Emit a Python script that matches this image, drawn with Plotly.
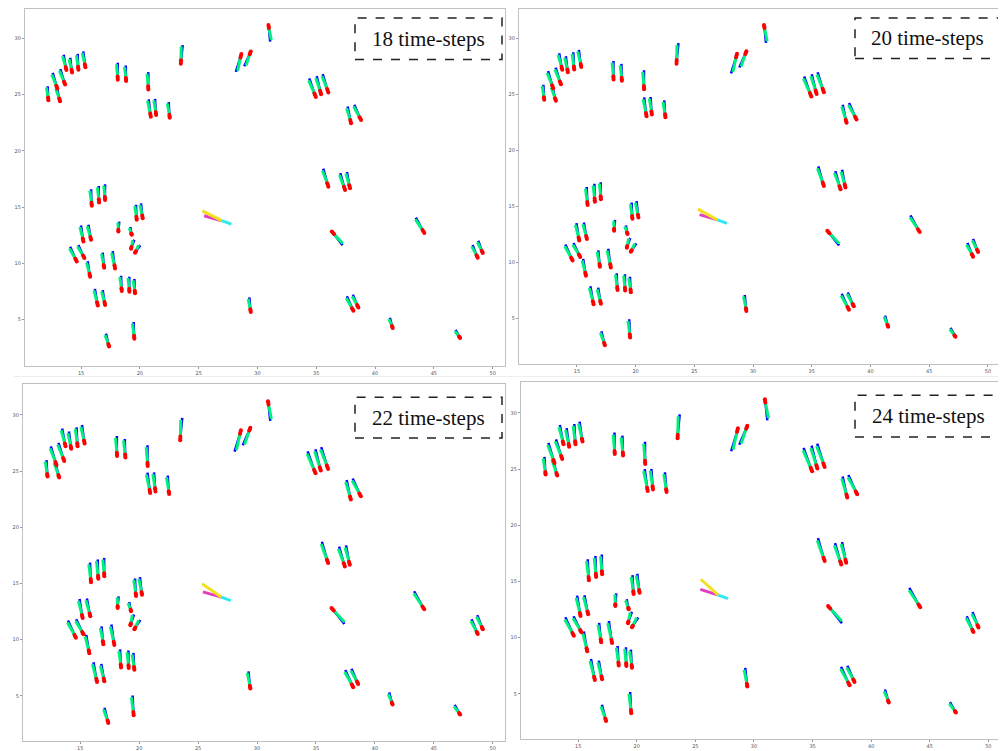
import plotly.graph_objects as go
import numpy as np

# ---------------- data ----------------
horizons = [18, 20, 22, 24]
panel_labels = ["18 time-steps", "20 time-steps", "22 time-steps", "24 time-steps"]

# red (observed) start point of every pedestrian
start_x = [12.22, 12.98, 13.21, 13.64, 13.75, 14.23, 14.77, 15.37, 18.12, 18.83,
           20.72, 20.93, 21.38, 22.54, 23.48, 28.63, 29.43, 30.93, 34.96, 35.41,
           36.03, 37.96, 38.81, 36.03, 37.45, 37.87, 36.32, 44.19, 48.73, 49.16,
           38.16, 38.58, 41.50, 47.23, 29.43, 15.91, 16.53, 17.04, 19.73, 20.24,
           18.17, 19.31, 15.20, 15.85, 19.25, 19.59, 14.63, 15.28, 15.77, 16.96,
           17.89, 18.46, 19.11, 19.59, 16.42, 17.04, 17.38, 19.53]
start_y = [24.51, 25.54, 24.42, 25.90, 27.20, 26.98, 27.21, 27.44, 26.33, 26.21,
           25.45, 23.04, 23.19, 22.95, 27.74, 28.62, 28.85, 31.20, 24.80, 25.04,
           25.19, 22.46, 22.75, 16.82, 16.52, 16.67, 12.82, 12.70, 10.50, 10.92,
           5.77, 6.07, 4.25, 3.36, 5.66, 15.11, 15.41, 15.64, 13.88, 14.00,
           12.82, 12.53, 11.94, 12.09, 11.29, 10.94, 10.17, 10.48, 8.80, 9.60,
           9.53, 7.53, 7.48, 7.33, 6.25, 6.30, 2.60, 3.28]
# far end of the predicted path at 18 time-steps
end_x = [12.08, 12.51, 12.85, 13.16, 13.44, 14.00, 14.63, 15.11, 18.04, 18.72,
         20.64, 20.67, 21.21, 22.37, 23.56, 28.24, 28.95, 31.16, 34.33, 34.96,
         35.47, 37.59, 38.16, 35.52, 36.97, 37.53, 37.30, 43.40, 48.22, 48.70,
         37.53, 38.04, 41.19, 46.78, 29.23, 15.77, 16.42, 16.96, 19.59, 20.02,
         18.17, 19.11, 14.91, 15.54, 19.45, 19.96, 14.00, 14.69, 15.48, 16.76,
         17.61, 18.32, 19.02, 19.45, 16.10, 16.76, 17.04, 19.39]
end_y = [25.74, 26.92, 25.63, 27.24, 28.53, 28.27, 28.62, 28.83, 27.83, 27.59,
         27.00, 24.57, 24.62, 24.33, 29.42, 27.00, 27.50, 29.74, 26.42, 26.63,
         26.80, 23.92, 24.07, 18.40, 17.99, 18.11, 11.65, 14.03, 11.59, 11.97,
         7.04, 7.18, 5.13, 4.04, 6.95, 16.58, 16.87, 17.02, 15.20, 15.32,
         13.70, 13.21, 13.35, 13.41, 12.11, 11.65, 11.44, 11.58, 10.17, 10.94,
         11.06, 8.89, 8.80, 8.59, 7.71, 7.60, 3.72, 4.77]

# highlighted pedestrian (cyan observed, yellow truth, magenta prediction)
sp_obs_x = [27.78, 26.96]
sp_obs_y = [13.48, 13.79]
sp_gt_end_x = [25.31, 25.30, 25.34, 25.46]
sp_gt_end_y = [14.67, 14.75, 14.97, 15.20]
sp_pred_end_x = [25.46, 25.45, 25.40, 25.42]
sp_pred_end_y = [14.23, 14.26, 14.25, 14.30]

x_ticks = [15, 20, 25, 30, 35, 40, 45, 50]
y_ticks = [5, 10, 15, 20, 25, 30]

# ---------------- layout geometry (page pixels) ----------------
OFF = 8                      # page body margin
W, H = 1006 - OFF, 751 - OFF
frames = [(25, 505, 8, 368), (519, 1003, 8, 366), (23, 505, 387, 747), (521, 1003, 385, 745)]
xranges = [[10.23, 51.05], [10.07, 51.28], [10.14, 51.04], [10.12, 51.25]]
yranges = [[0.90, 32.62], [0.95, 32.62], [0.99, 32.70], [0.99, 32.70]]
boxes = [(355, 502, 17, 59), (855, 1000, 17, 58), (355, 502, 400, 441), (855, 1002, 398, 440)]


def fx_(p):
    return (p - OFF) / W


def fy_(p):
    return 1 - (p - OFF) / H


OBS_FRAC = 0.19
RED = "#ff0000"
GREEN = "#00f080"
BLUE = "#0000ff"

fig = go.Figure()

sx = np.array(start_x); sy = np.array(start_y)
ex = np.array(end_x); ey = np.array(end_y)
dx = ex - sx; dy = ey - sy
ln = np.hypot(dx, dy)
px_, py_ = -dy / ln, dx / ln  # perpendicular unit vector

for k in range(4):
    xa = "x" if k == 0 else f"x{k+1}"
    ya = "y" if k == 0 else f"y{k+1}"
    scale = horizons[k] / 18.0
    ox = sx + OBS_FRAC * dx
    oy = sy + OBS_FRAC * dy
    fx = (ex - ox) * scale
    fy = (ey - oy) * scale
    gx = ox + 0.90 * fx + 0.04 * px_
    gy = oy + 0.90 * fy + 0.04 * py_
    bx = ox + fx - 0.08 * px_
    by = oy + fy - 0.08 * py_

    bl_x, bl_y, gr_x, gr_y, rd_x, rd_y = [], [], [], [], [], []
    for i in range(len(sx)):
        bl_x += [ox[i], bx[i], None]
        bl_y += [oy[i], by[i], None]
        gr_x += [ox[i], gx[i], None]
        gr_y += [oy[i], gy[i], None]
        rd_x += [sx[i], (sx[i] + ox[i]) / 2, ox[i], None]
        rd_y += [sy[i], (sy[i] + oy[i]) / 2, oy[i], None]

    fig.add_trace(go.Scatter(x=bl_x, y=bl_y, mode="lines", line=dict(color=BLUE, width=2.5),
                             xaxis=xa, yaxis=ya, hoverinfo="skip", showlegend=False))
    fig.add_trace(go.Scatter(x=gr_x, y=gr_y, mode="lines", line=dict(color=GREEN, width=3),
                             xaxis=xa, yaxis=ya, hoverinfo="skip", showlegend=False))
    fig.add_trace(go.Scatter(x=rd_x, y=rd_y, mode="lines+markers", line=dict(color=RED, width=2.5),
                             marker=dict(color=RED, size=4),
                             xaxis=xa, yaxis=ya, hoverinfo="skip", showlegend=False))
    # highlighted pedestrian
    fig.add_trace(go.Scatter(x=[sp_obs_x[1], sp_pred_end_x[k]], y=[sp_obs_y[1], sp_pred_end_y[k]],
                             mode="lines", line=dict(color="#e040c0", width=3),
                             xaxis=xa, yaxis=ya, hoverinfo="skip", showlegend=False))
    fig.add_trace(go.Scatter(x=[sp_obs_x[1], sp_gt_end_x[k]], y=[sp_obs_y[1], sp_gt_end_y[k]],
                             mode="lines", line=dict(color="#f2e020", width=3),
                             xaxis=xa, yaxis=ya, hoverinfo="skip", showlegend=False))
    fig.add_trace(go.Scatter(x=sp_obs_x, y=sp_obs_y, mode="lines", line=dict(color="#30e8f0", width=3),
                             xaxis=xa, yaxis=ya, hoverinfo="skip", showlegend=False))

axis_common = dict(showgrid=False, zeroline=False, showline=True, mirror=True,
                   linecolor="#c0c0c0", linewidth=1.3, ticks="outside", ticklen=2,
                   tickcolor="#999", tickwidth=1, tickfont=dict(size=5, color="#555", family="DejaVu Sans"))

layout = dict(width=W, height=H, margin=dict(l=0, r=0, t=0, b=0),
              paper_bgcolor="white", plot_bgcolor="white", showlegend=False)
shapes = []
annotations = []
for k in range(4):
    x0, x1, y0, y1 = frames[k]
    xn = "xaxis" if k == 0 else f"xaxis{k+1}"
    yn = "yaxis" if k == 0 else f"yaxis{k+1}"
    anchor_x = "y" if k == 0 else f"y{k+1}"
    anchor_y = "x" if k == 0 else f"x{k+1}"
    layout[xn] = dict(axis_common, domain=[max(0, fx_(x0)), min(1, fx_(x1))], range=xranges[k],
                      tickvals=x_ticks, anchor=anchor_x)
    layout[yn] = dict(axis_common, domain=[max(0, fy_(y1)), min(1, fy_(y0))], range=yranges[k],
                      tickvals=y_ticks, anchor=anchor_y)
    bx0, bx1, by0, by1 = boxes[k]
    shapes.append(dict(type="rect", xref="paper", yref="paper",
                       x0=fx_(bx0), x1=fx_(bx1), y0=fy_(by1), y1=fy_(by0),
                       line=dict(color="#222", width=1.5, dash="dash"), fillcolor="white"))
    annotations.append(dict(text=panel_labels[k], xref="paper", yref="paper",
                            x=fx_((bx0 + bx1) / 2), y=fy_((by0 + by1) / 2),
                            showarrow=False, xanchor="center", yanchor="middle",
                            font=dict(family="Liberation Serif, Times New Roman, serif", size=21, color="#111")))

shapes.append(dict(type="line", xref="paper", yref="paper", x0=fx_(14), x1=1, y0=fy_(379), y1=fy_(379),
                   line=dict(color="#eeeeee", width=1)))
layout["shapes"] = shapes
layout["annotations"] = annotations
fig.update_layout(**layout)

fig.write_html("out.html")
